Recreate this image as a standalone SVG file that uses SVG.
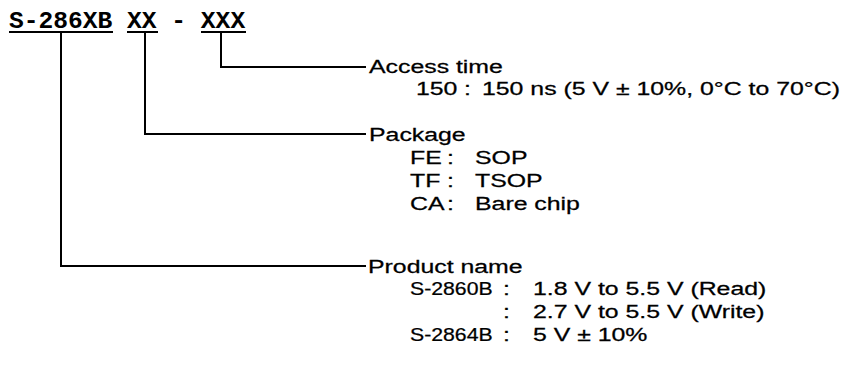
<svg xmlns="http://www.w3.org/2000/svg" width="855" height="365" viewBox="0 0 855 365">
  <style>
    .t { font-family: "Liberation Sans", Arial, Helvetica, sans-serif; font-size: 18px; fill: #000; stroke: #000; stroke-width: 0.25; }
    .code { font-family: "Liberation Mono", "DejaVu Sans Mono", monospace; font-size: 24.6px; font-weight: bold; fill: #000; }
    .ln { stroke: #000; stroke-width: 2; fill: none; }
  </style>
  <rect width="855" height="365" fill="#fff"/>

  <g id="part-number">
    <text class="code" x="9" y="28">S-286XB XX - XXX</text>
    <line class="ln" x1="9" y1="32" x2="113" y2="32"/>
    <line class="ln" x1="127" y1="32" x2="158" y2="32"/>
    <line class="ln" x1="201" y1="32" x2="246" y2="32"/>
  </g>

  <g id="connectors">
    <polyline class="ln" points="221,33 221,67 366,67"/>
    <polyline class="ln" points="145,33 145,134 366,134"/>
    <polyline class="ln" points="61,33 61,266 366,266"/>
  </g>

  <g id="node-access">
    <text class="t" transform="translate(369,73) scale(1.38,1)">Access time</text>
    <text class="t" transform="translate(416,95) scale(1.38,1)">150</text>
    <text class="t" transform="translate(464,95) scale(1.38,1)">:</text>
    <text class="t" transform="translate(482,95) scale(1.38,1)">150 ns (5 V ± 10%, 0°C to 70°C)</text>
  </g>

  <g id="node-package">
    <text class="t" transform="translate(369,141) scale(1.38,1)">Package</text>
    <text class="t" transform="translate(410,164) scale(1.38,1)">FE</text>
    <text class="t" transform="translate(447,164) scale(1.38,1)">:</text>
    <text class="t" transform="translate(475,164) scale(1.38,1)">SOP</text>
    <text class="t" transform="translate(410,187) scale(1.38,1)">TF</text>
    <text class="t" transform="translate(447,187) scale(1.38,1)">:</text>
    <text class="t" transform="translate(475,187) scale(1.38,1)">TSOP</text>
    <text class="t" transform="translate(410,210) scale(1.38,1)">CA</text>
    <text class="t" transform="translate(447,210) scale(1.38,1)">:</text>
    <text class="t" transform="translate(475,210) scale(1.38,1)">Bare chip</text>
  </g>

  <g id="node-product">
    <text class="t" transform="translate(368,273) scale(1.38,1)">Product name</text>
    <text class="t" transform="translate(410,295) scale(1.18,1)">S-2860B</text>
    <text class="t" transform="translate(503,295) scale(1.38,1)">:</text>
    <text class="t" transform="translate(533,295) scale(1.38,1)">1.8 V to 5.5 V (Read)</text>
    <text class="t" transform="translate(503,318) scale(1.38,1)">:</text>
    <text class="t" transform="translate(533,318) scale(1.38,1)">2.7 V to 5.5 V (Write)</text>
    <text class="t" transform="translate(410,341) scale(1.18,1)">S-2864B</text>
    <text class="t" transform="translate(503,341) scale(1.38,1)">:</text>
    <text class="t" transform="translate(533,341) scale(1.38,1)">5 V ± 10%</text>
  </g>
</svg>
